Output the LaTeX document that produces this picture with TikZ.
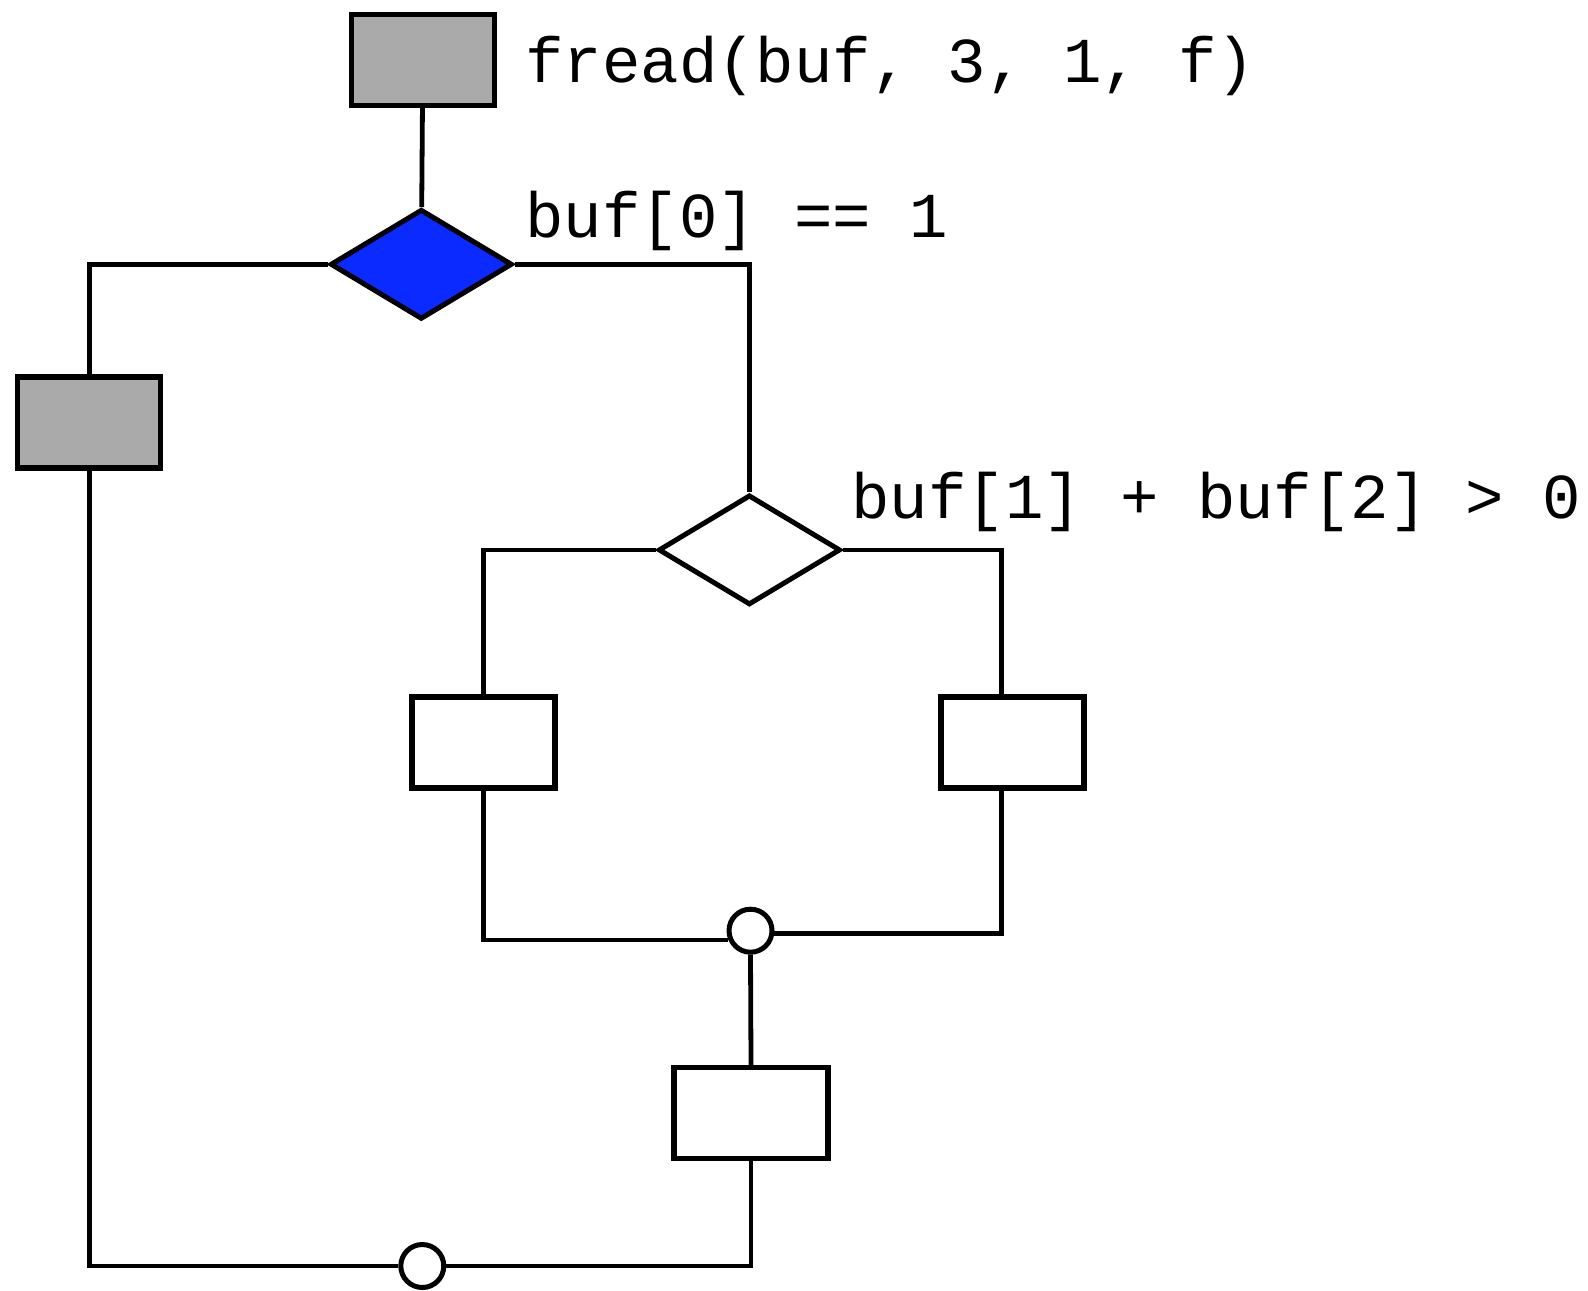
\documentclass[tikz,border=0pt]{standalone}
\usepackage{fontspec}
\newfontfamily\codefont{Liberation Mono}
\usetikzlibrary{shapes.geometric}
\definecolor{boxgray}{RGB}{170,170,170}
\definecolor{condblue}{RGB}{10,42,255}
\begin{document}
\begin{tikzpicture}[x=0.5pt,y=-0.5pt,
  blk/.style={draw,line width=2.7pt,rectangle,inner sep=0pt,minimum width=71.5pt,minimum height=45.5pt,fill=white},
  grayblk/.style={blk,fill=boxgray},
  cond/.style={draw,line width=2.5pt,diamond,inner sep=0pt,minimum width=91pt,minimum height=55pt,fill=white},
  joinpt/.style={draw,line width=2.5pt,circle,inner sep=0pt,minimum size=21.5pt,fill=white},
  wire/.style={line width=2.4pt},
  lbl/.style={anchor=base west,inner sep=0pt,font=\codefont\fontsize{32}{38}\selectfont}]
\useasboundingbox (0,0) rectangle (1588,1290);
% nodes
\node[grayblk] (b1) at (422.8,59.8) {};
\node[cond,fill=condblue] (d1) at (421.3,264.3) {};
\node[grayblk] (b2) at (89.1,422.3) {};
\node[cond] (d2) at (749.4,549.9) {};
\node[blk] (bl) at (483.6,742.4) {};
\node[blk] (br) at (1012.3,742.4) {};
\node[joinpt] (c1) at (750.5,930.7) {};
\node[blk,minimum width=77pt] (bb) at (751,1113) {};
\node[joinpt] (c2) at (422.3,1266) {};
\coordinate (rx) at (1001.6,0);
% labels
\node[lbl] (t1) at (525,82) {fread(buf, 3, 1, f)};
\node[lbl] (t2) at (525,237) {buf[0] == 1};
\node[lbl] (t3) at (851,518) {buf[1] + buf[2] > 0};
% connectors
\draw[wire] (b1) -- (d1);
\draw[wire] (d1.west) -| (b2.north);
\draw[wire] (b2.south) |- (c2.west);
\draw[wire] (d1.east) -| (d2.north);
\draw[wire] (d2.west) -| (bl.north);
\draw[wire] (d2.east) -| (br.north -| rx);
\draw[wire] (bl.south) |- (c1.203);
\draw[wire] (br.south -| rx) |- (c1.354);
\draw[wire] (c1.south) -- (bb.north);
\draw[wire] (bb.south) |- (c2.east);
\end{tikzpicture}
\end{document}
